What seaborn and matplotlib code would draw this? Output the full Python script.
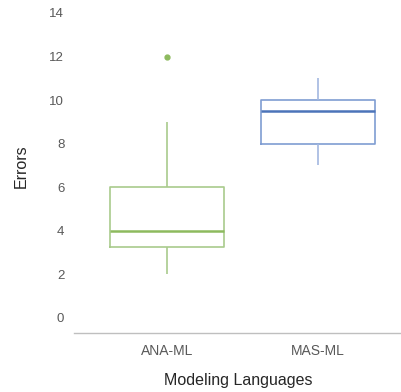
import pandas as pd
import matplotlib
matplotlib.use("Agg")
import matplotlib.pyplot as plt
import seaborn as sns

# errors per participant
languages = ["ANA-ML", "MAS-ML"]
ana_ml_errors = [2, 3, 3, 4, 4, 4, 6, 6, 9, 12]
mas_ml_errors = [7, 8, 8, 8, 9, 10, 10, 10, 11, 11]
y_ticks = [0, 2, 4, 6, 8, 10, 12, 14]

box_colors = ["#a9cb8c", "#7f9dd2"]
whisker_colors = ["#a9cb8c", "#a3b8e0"]
median_colors = ["#8dba5e", "#4c74b9"]

df = pd.DataFrame({
    "Modeling Languages": [languages[0]] * len(ana_ml_errors) + [languages[1]] * len(mas_ml_errors),
    "Errors": ana_ml_errors + mas_ml_errors,
})

sns.set_style("white")
plt.rcParams["font.family"] = ["Liberation Sans", "DejaVu Sans"]

fig = plt.figure(figsize=(4.02, 3.92), dpi=100)
ax = fig.add_axes([74 / 402, 59 / 392, 328 / 402, 320 / 392])

sns.boxplot(data=df, x="Modeling Languages", y="Errors", hue="Modeling Languages",
            order=languages, palette=box_colors, fill=False, width=0.75,
            showcaps=False, linewidth=1.2, legend=False, ax=ax,
            flierprops=dict(marker="o", markersize=3.5))

for cont, wc, mc in zip(ax.containers, whisker_colors, median_colors):
    for m in cont.medians:
        m.set_color(mc)
        m.set_linewidth(1.8)
    for w in cont.whiskers:
        w.set_color(wc)
    for f in cont.fliers:
        f.set_markerfacecolor(mc)
        f.set_markeredgecolor(mc)

ax.set_xlim(-0.616, 1.556)
ax.set_ylim(-0.7, 14)
ax.set_yticks(y_ticks)
ax.tick_params(axis="both", length=0, colors="#595959")
ax.tick_params(axis="y", pad=7, labelsize=9.5)
ax.tick_params(axis="x", pad=8, labelsize=10)
for s in ["left", "right", "top"]:
    ax.spines[s].set_visible(False)
ax.spines["bottom"].set_color("#bfbfbf")
ax.spines["bottom"].set_linewidth(1.0)
ax.set_xlabel("Modeling Languages", fontsize=11.5, labelpad=11)
ax.set_ylabel("Errors", fontsize=11.5)
ax.yaxis.set_label_coords(-0.137, 0.52)

fig.savefig("out.png", dpi=100)
